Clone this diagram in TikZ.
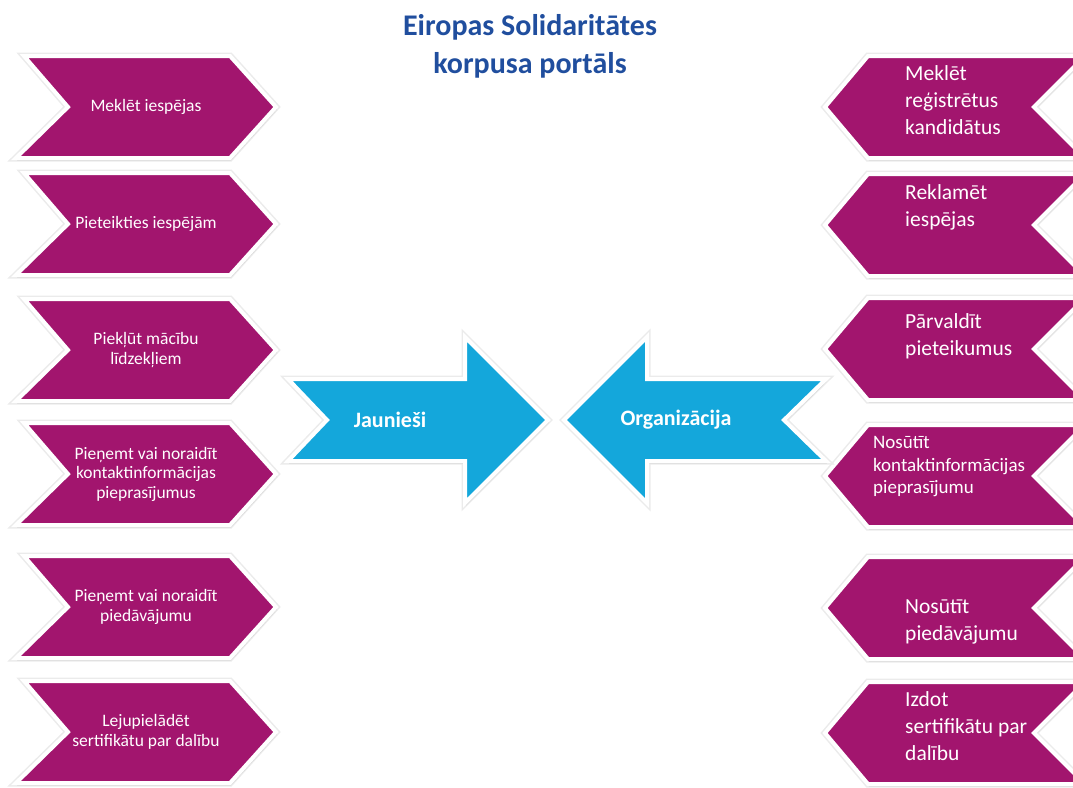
\documentclass[tikz,border=0pt]{standalone}
\usepackage{fontspec}
\setmainfont{Carlito}
\usetikzlibrary{shadows}% soft shadow under the shapes
\definecolor{portalblue}{RGB}{32,78,158}
\definecolor{chevronpink}{RGB}{162,21,110}
\definecolor{arrowblue}{RGB}{20,167,219}
\tikzset{every node/.style={font=\fontsize{17.5}{19.5}\selectfont}}
\tikzset{chevron/.style={fill=chevronpink, draw=white, line width=4pt,
    preaction={draw=black!8, line width=7pt},
    drop shadow={opacity=0.2, shadow xshift=1pt, shadow yshift=-2.5pt}},
  bigarrow/.style={chevron, fill=arrowblue},
  lefttext/.style={white, align=center},
  righttext/.style={white, align=left, anchor=west, inner sep=0pt},
  rbig/.style={font=\fontsize{21.5}{27}\selectfont},
  rsmall/.style={font=\fontsize{19}{22.5}\selectfont},
  arrowtext/.style={white, font=\bfseries\fontsize{22}{24}\selectfont}}

\begin{document}
\begin{tikzpicture}[x=1pt, y=-1pt]
    \useasboundingbox (0,0) rectangle (1073,787);
    \node[portalblue, font=\bfseries\fontsize{30}{38}\selectfont, align=center] (title) at (530,46) {Eiropas Solidaritātes\\korpusa portāls};
    % left column
    \foreach \c/\txt [count=\i] in {107/{Meklēt iespējas}, 224/{Pieteikties iespējām}, 350/{Piekļūt mācību\\līdzekļiem}, 474/{Pieņemt vai noraidīt\\kontaktinformācijas\\pieprasījumus}, 607/{Pieņemt vai noraidīt\\piedāvājumu}, 732/{Lejupielādēt\\sertifikātu par dalību}} {
      \draw[chevron] (24,\c-51) -- (230,\c-51) -- (276,\c) -- (230,\c+51) -- (16,\c+51) -- (68,\c) -- cycle;
      \node[lefttext] (left\i) at (146,\c) {\txt};
    }
    % right column
    \foreach \c/\ty/\tx/\fs/\txt [count=\i] in {107/100/905/rbig/{Meklēt\\reģistrētus\\kandidātus}, 225/207/905/rbig/{Reklamēt\\iespējas}, 349/336/905/rbig/{Pārvaldīt\\pieteikumus}, 476/467/873/rsmall/{Nosūtīt\\kontaktinformācijas\\pieprasījumu}, 608/622/905/rbig/{Nosūtīt\\piedāvājumu}, 733/726/905/rbig/{Izdot\\sertifikātu par\\dalību}} {
      \draw[chevron] (1085,\c-51) -- (868,\c-51) -- (825,\c) -- (868,\c+51) -- (1085,\c+51) -- (1034,\c) -- cycle;
      \node[righttext, \fs] (right\i) at (\tx,\ty) {\txt};
    }
    % the two big arrows
    \begin{scope}
      \draw[bigarrow] (288,379) -- (465,379) -- (465,337) -- (548,420) -- (465,503) -- (465,461) -- (288,461) -- (327,420) -- cycle;
      \draw[bigarrow] (564,420) -- (647,337) -- (647,379) -- (826,379) -- (784,420) -- (826,461) -- (647,461) -- (647,503) -- cycle;
    \end{scope}
    \node[arrowtext] (youth) at (390,420) {Jaunieši};
    \node[arrowtext] (org) at (676,420) {Organizācija};
\end{tikzpicture}
\end{document}
